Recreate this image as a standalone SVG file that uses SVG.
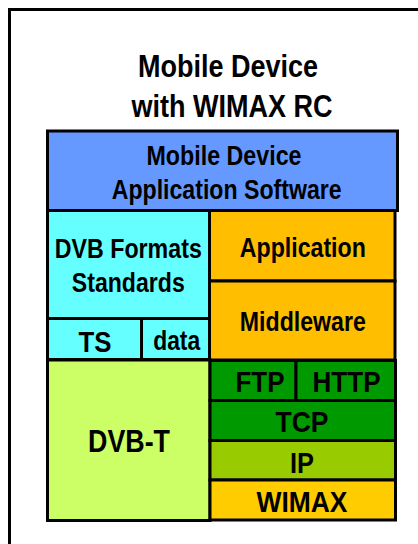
<svg xmlns="http://www.w3.org/2000/svg" width="418" height="544" viewBox="0 0 418 544">
  <style>
    .box { stroke: #000; stroke-width: 3; }
    .lbl { font-family: "Liberation Sans", Arial, sans-serif; font-weight: bold; fill: #000; text-anchor: middle; }
    .f26 { font-size: 27px; }
    .f29 { font-size: 30px; }
    .f30 { font-size: 31px; }
  </style>
  <rect width="418" height="544" fill="#fff"/>

  <!-- outer device frame (runs off the right and bottom edges) -->
  <g id="device-frame">
    <rect x="9.5" y="9.5" width="430" height="560" fill="none" stroke="#000" stroke-width="3"/>
    <text class="lbl f30" x="228" y="77.3" textLength="180" lengthAdjust="spacingAndGlyphs">Mobile Device</text>
    <text class="lbl f30" x="232" y="116.7" textLength="201" lengthAdjust="spacingAndGlyphs">with WIMAX RC</text>
  </g>

  <g id="app-software">
    <rect class="box" x="47.5" y="131" width="350" height="79.5" fill="#6699FF"/>
    <text class="lbl f26" x="224" y="164.5" textLength="155" lengthAdjust="spacingAndGlyphs">Mobile Device</text>
    <text class="lbl f26" x="226.7" y="199" textLength="230" lengthAdjust="spacingAndGlyphs">Application Software</text>
  </g>

  <g id="dvb-formats">
    <rect class="box" x="47.5" y="210.5" width="162" height="108" fill="#66FFFF"/>
    <text class="lbl f26" x="128.3" y="258.3" textLength="147" lengthAdjust="spacingAndGlyphs">DVB Formats</text>
    <text class="lbl f26" x="128.3" y="291.7" textLength="113" lengthAdjust="spacingAndGlyphs">Standards</text>
  </g>

  <g id="ts">
    <rect class="box" x="47.5" y="318.5" width="94" height="41" fill="#66FFFF"/>
    <text class="lbl f29" x="95" y="351.7" textLength="33" lengthAdjust="spacingAndGlyphs">TS</text>
  </g>

  <g id="data">
    <rect class="box" x="141.5" y="318.5" width="68" height="41" fill="#66FFFF"/>
    <text class="lbl f26" x="176.7" y="350" textLength="47" lengthAdjust="spacingAndGlyphs">data</text>
  </g>

  <g id="application">
    <rect class="box" x="209.5" y="210.5" width="185.5" height="70.5" fill="#FFBF00"/>
    <text class="lbl f26" x="302.8" y="256.7" textLength="126" lengthAdjust="spacingAndGlyphs">Application</text>
  </g>

  <g id="middleware">
    <rect class="box" x="209.5" y="281" width="185.5" height="79" fill="#FFBF00"/>
    <text class="lbl f26" x="302.8" y="331" textLength="126" lengthAdjust="spacingAndGlyphs">Middleware</text>
  </g>

  <g id="dvb-t">
    <rect class="box" x="47.5" y="360" width="162.5" height="160.5" fill="#CCFF66"/>
    <text class="lbl f30" x="129" y="451.7" textLength="82" lengthAdjust="spacingAndGlyphs">DVB-T</text>
  </g>

  <g id="ftp">
    <rect class="box" x="210" y="360.5" width="86" height="40" fill="#009900"/>
    <text class="lbl f29" x="260" y="392.3" textLength="49" lengthAdjust="spacingAndGlyphs">FTP</text>
  </g>

  <g id="http">
    <rect class="box" x="296" y="360.5" width="99.5" height="40" fill="#009900"/>
    <text class="lbl f29" x="346.5" y="392.3" textLength="68" lengthAdjust="spacingAndGlyphs">HTTP</text>
  </g>

  <g id="tcp">
    <rect class="box" x="210" y="400.5" width="185.5" height="40" fill="#009900"/>
    <text class="lbl f29" x="302" y="432.3" textLength="53" lengthAdjust="spacingAndGlyphs">TCP</text>
  </g>

  <g id="ip">
    <rect class="box" x="210" y="440.5" width="185.5" height="39.5" fill="#99CC00"/>
    <text class="lbl f29" x="302" y="473.3" textLength="24" lengthAdjust="spacingAndGlyphs">IP</text>
  </g>

  <g id="wimax">
    <rect class="box" x="210" y="480" width="185.5" height="40" fill="#FFCC00"/>
    <text class="lbl f29" x="302" y="512.3" textLength="91" lengthAdjust="spacingAndGlyphs">WIMAX</text>
  </g>

  <g id="connectors"></g>
</svg>
